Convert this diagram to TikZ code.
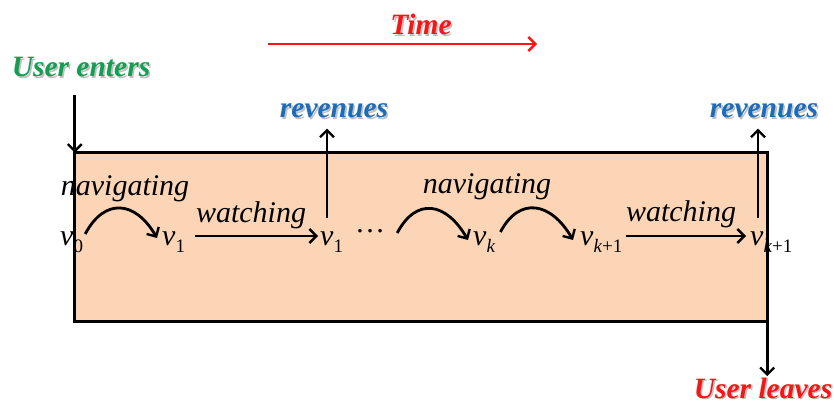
\documentclass[tikz,border=0pt]{standalone}
\usepackage{fontspec}
\setmainfont{Liberation Serif}
\usetikzlibrary{arrows.meta,calc}

\definecolor{boxfill}{RGB}{251,213,181}
\definecolor{revblue}{RGB}{28,108,188}
\definecolor{entgreen}{RGB}{16,160,80}
\definecolor{timered}{RGB}{250,20,20}

% state symbol v with a lowered subscript
\newcommand\vsub[1]{\textit{v}\raisebox{-7pt}{\fontsize{19}{19}\selectfont #1}}

\tikzset{
  arr/.style={-{Straight Barb[length=7pt,width=14pt,line width=2.4pt]}, line width=2.8pt},
  lbl/.style={inner sep=0pt, font=\fontsize{30}{32}\selectfont\itshape},
  vlab/.style={inner sep=0pt, anchor=base west, font=\fontsize{30}{32}\selectfont},
  wa/.style={inner sep=0pt, anchor=base, font=\fontsize{29.5}{31}\selectfont\bfseries\itshape},
}

% bold italic caption with a soft grey drop shadow
\newcommand\wordart[4]{%
  \node[wa, text=black!45, opacity=0.55] at ($(#2)+(1.6,1.6)$) {#4};
  \node[wa, text=#3] (#1) at (#2) {#4};}

\begin{document}
\begin{tikzpicture}[x=1pt, y=-1pt]
\useasboundingbox (0,0) rectangle (834,406);

% session box (filled first, outlined last)
\node[fill=boxfill, inner sep=0pt, minimum width=692pt, minimum height=168pt] (box) at (421,237) {};

% captions
\wordart{time}{421,35}{timered}{Time}
\wordart{enter}{81,77}{entgreen}{User enters}
\wordart{rev1}{334,118}{revblue}{revenues}
\wordart{rev2}{764,118}{revblue}{revenues}
\wordart{leave}{763,398}{timered}{User leaves}

% states
\node[vlab] (v0)   at (60,245)  {\vsub{0}};
\node[vlab] (v1a)  at (162,245) {\vsub{1}};
\node[vlab] (v1b)  at (320,245) {\vsub{1}};
\node[inner sep=0pt, anchor=base, font=\fontsize{30}{32}\selectfont] (dots) at (370,232) {\dots};
\node[vlab] (vk)   at (473,245) {\vsub{\textit{k}}};
\node[vlab] (vk1a) at (580,245) {\vsub{\textit{k}+1}};
\node[vlab] (vk1b) at (750,245) {\vsub{\textit{k}+1}};

% transition labels
\node[lbl, anchor=base] (nav1) at (125,195) {navigating};
\node[lbl, anchor=base] (wat1) at (251,222) {watching};
\node[lbl, anchor=base] (nav2) at (487,193) {navigating};
\node[lbl, anchor=base] (wat2) at (681,221) {watching};

% time axis
\draw[arr, timered, line width=2.8pt] ($(time.base)+(-153,9)$) -- ($(time.base)+(116,9)$);

% navigation hops
\draw[arr] ($(v0.base east)+(2,-11)$) .. controls +(19,-36) and +(-22,-38) .. ($(v1a.base west)+(-5,-7)$);
\draw[arr] ($(dots.base east)+(12,1)$) .. controls +(19,-36) and +(-22,-38) .. ($(vk.base west)+(-5,-5)$);
\draw[arr] ($(vk.base east)+(5,-13)$) .. controls +(19,-36) and +(-22,-38) .. ($(vk1a.base west)+(-7,-5)$);

% watching transitions
\draw[arr] ($(v1a.base east)+(10,-9)$) -- ($(v1b.base west)+(-2,-9)$);
\draw[arr] ($(vk1a.base east)+(3,-9)$) -- ($(vk1b.base west)+(-4,-9)$);

% revenue outputs
\draw[arr] ($(v1b.base west)+(7,-27)$) -- ($(v1b.base west |- rev1.south)+(7,10)$);
\draw[arr] ($(vk1b.base west)+(8,-27)$) -- ($(vk1b.base west |- rev2.south)+(8,10)$);

% box outline
\draw[line width=3pt] (box.north west) rectangle (box.south east);

% entering and leaving
\draw[arr] ($(box.north west |- enter.south)+(0,18)$) -- (box.north west);
\draw[arr] (box.south east) -- ($(box.south east)+(0,55)$);
\end{tikzpicture}
\end{document}
